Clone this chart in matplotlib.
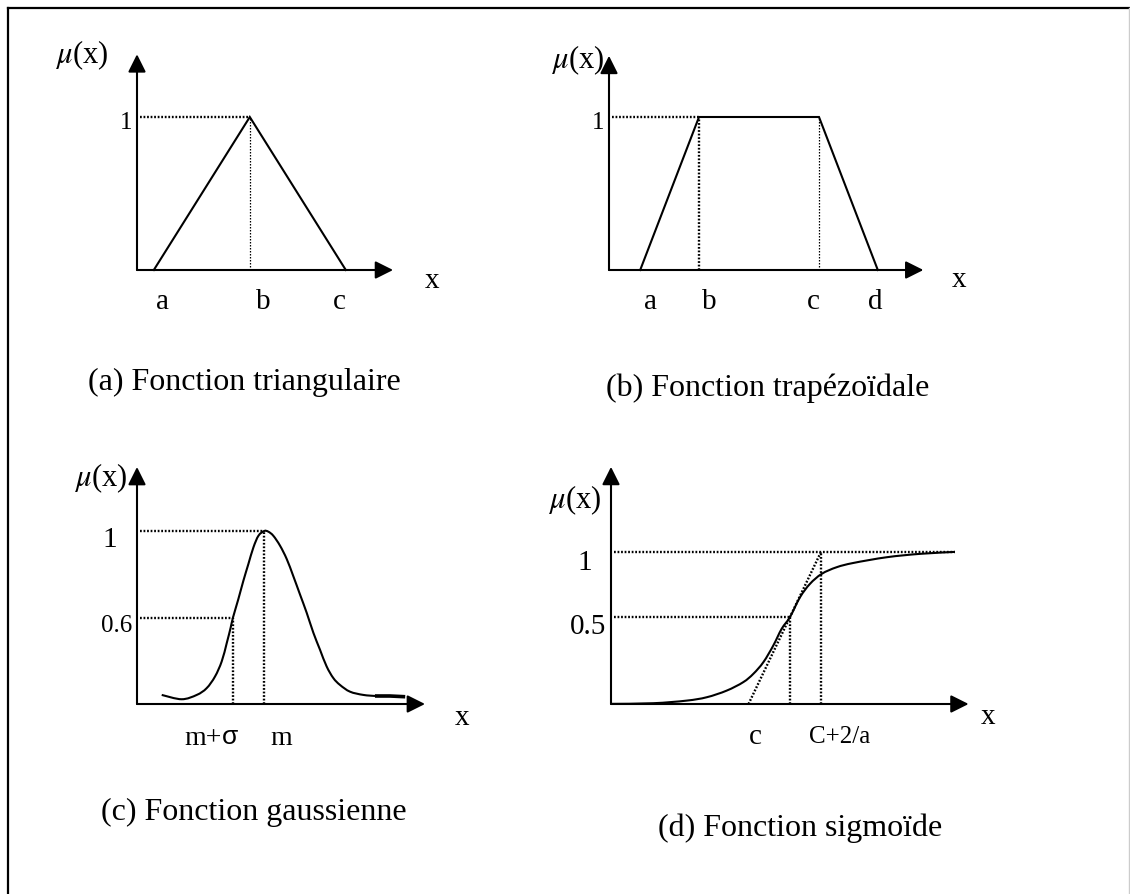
import numpy as np
import matplotlib
import matplotlib.pyplot as plt
from matplotlib.lines import Line2D
from matplotlib.path import Path
from matplotlib.patches import PathPatch

matplotlib.rcParams['font.family'] = ['Liberation Serif', 'DejaVu Serif']
matplotlib.rcParams['mathtext.fontset'] = 'stix'

W, H = 1130, 895

# (a) fonction triangulaire
tri_x = [0.7, 4.7, 8.7]
tri_y = [0, 1, 0]
tri_ticks = [1.08, 5.25, 8.42]
tri_labels = ['a', 'b', 'c']

# (b) fonction trapezoidale
trap_x = [1.3, 3.75, 8.75, 11.2]
trap_y = [0, 1, 1, 0]
trap_ticks = [1.71, 4.17, 8.5, 11.08]
trap_labels = ['a', 'b', 'c', 'd']

# (c) fonction gaussienne (axe des x a 0.2)
gauss_base = 0.2
gauss_x = [1.03, 1.86, 2.49, 2.90, 3.25, 3.53, 3.74, 3.90, 4.0, 4.22, 4.43, 4.64,
           4.85, 5.06, 5.3, 5.47, 5.68, 5.96, 6.24, 6.51, 6.79, 7.07, 7.35, 7.625,
           7.90, 8.18, 8.46, 8.875, 9.43, 9.99, 10.54, 11.10]
gauss_y = [0.242, 0.222, 0.242, 0.273, 0.327, 0.397, 0.482, 0.552, 0.6, 0.684, 0.769, 0.847,
           0.924, 0.978, 1.0, 0.997, 0.978, 0.932, 0.870, 0.792, 0.707, 0.622, 0.529, 0.451,
           0.374, 0.320, 0.288, 0.257, 0.242, 0.237, 0.237, 0.234]
gauss_m = 5.3
gauss_ms = 4.0
gauss_levels = [1.0, 0.6]

# (d) fonction sigmoide (axe des x a -0.17)
sig_base = -0.17
sig_x = [0.0, 1.76, 3.15, 3.99, 4.82, 5.51, 5.93, 6.35, 6.76, 7.11, 7.46, 7.875,
         8.29, 8.78, 9.40, 10.1, 11.49, 12.875, 14.33]
sig_y = [-0.169, -0.164, -0.144, -0.118, -0.067, -0.002, 0.062, 0.152, 0.279, 0.408, 0.5, 0.651,
         0.754, 0.831, 0.882, 0.915, 0.959, 0.985, 1.0]
sig_c = 7.46
sig_c2a = 8.75
tan_x = [5.73, 8.75]
tan_y = [-0.17, 1.0]

fig = plt.figure(figsize=(W / 100, H / 100), dpi=100)

# cadre
bg = fig.add_axes([0, 0, 1, 1])
bg.set_xlim(0, W)
bg.set_ylim(H, 0)
bg.axis('off')
bg.add_line(Line2D([8, 1129], [9, 9], color='k', lw=1.6))
bg.add_line(Line2D([8, 8], [9, H], color='k', lw=1.6))
bg.add_line(Line2D([1129, 1129], [9, H], color='#cccccc', lw=1))


def panel(ox, oy, sx, sy, xlim, ylim):
    # ox, oy : pixel de l'origine (0, 0), sx, sy : pixels par unite
    left = ox + xlim[0] * sx
    right = ox + xlim[1] * sx
    top = oy - ylim[1] * sy
    bottom = oy - ylim[0] * sy
    ax = fig.add_axes([left / W, 1 - bottom / H, (right - left) / W, (bottom - top) / H])
    ax.set_xlim(*xlim)
    ax.set_ylim(*ylim)
    ax.axis('off')
    return ax


def arrows(ax, y0, xtip, ytip):
    kw = dict(arrowstyle='-|>,head_length=0.4,head_width=0.2', mutation_scale=27,
              lw=1.5, color='k', shrinkA=0, shrinkB=0)
    ax.annotate('', xy=(xtip, y0), xytext=(0, y0), arrowprops=kw, annotation_clip=False)
    ax.annotate('', xy=(0, ytip), xytext=(0, y0), arrowprops=kw, annotation_clip=False)


def smooth(ax, xs, ys, lw=1.5):
    # courbe lisse passant par les points (Catmull-Rom -> Bezier)
    p = np.column_stack([xs, ys])
    p = np.vstack([p[0], p, p[-1]])
    verts = [p[1]]
    codes = [Path.MOVETO]
    for i in range(1, len(p) - 2):
        c1 = p[i] + (p[i + 1] - p[i - 1]) / 6
        c2 = p[i + 1] - (p[i + 2] - p[i]) / 6
        verts += [c1, c2, p[i + 1]]
        codes += [Path.CURVE4] * 3
    ax.add_patch(PathPatch(Path(verts, codes), fill=False, ec='k', lw=lw))


dot = dict(color='k', lw=1.7, ls=(0, (0.75, 0.75)))
thin = dict(color='k', lw=0.9, ls=(0, (1.2, 1.2)))
curve = dict(color='k', lw=1.5, solid_joinstyle='miter')

# ---- (a)
ax = panel(137, 271, 24, 153, (-5, 15), (-1, 1.6))
arrows(ax, 0, 10.67, 1.41)
ax.plot([0.12, tri_x[1]], [1, 1], **dot)
ax.plot([tri_x[1], tri_x[1]], [0, 1], **thin)
ax.plot(tri_x, tri_y, **curve)
for x, s in zip(tri_ticks, tri_labels):
    ax.text(x, -0.2, s, fontsize=21, ha='center', va='center')
ax.text(-0.46, 0.967, '1', fontsize=18, ha='center', va='center')
ax.text(-2.31, 1.41, r'$\mu$(x)', fontsize=22, ha='center', va='center')
ax.text(12.3, -0.065, 'x', fontsize=21, ha='center', va='center')
ax.text(4.46, -0.73, '(a) Fonction triangulaire', fontsize=23, ha='center', va='center')

# ---- (b)
ax = panel(609, 271, 24, 153, (-5, 17), (-1, 1.6))
arrows(ax, 0, 13.1, 1.4)
ax.plot([0.12, trap_x[1]], [1, 1], **dot)
ax.plot([trap_x[1], trap_x[1]], [0, 1], **dot)
ax.plot([trap_x[2], trap_x[2]], [0, 1], **thin)
ax.plot(trap_x, trap_y, **curve)
for x, s in zip(trap_ticks, trap_labels):
    ax.text(x, -0.2, s, fontsize=21, ha='center', va='center')
ax.text(-0.46, 0.967, '1', fontsize=18, ha='center', va='center')
ax.text(-1.29, 1.38, r'$\mu$(x)', fontsize=22, ha='center', va='center')
ax.text(14.6, -0.06, 'x', fontsize=21, ha='center', va='center')
ax.text(6.6, -0.765, '(b) Fonction trapézoïdale', fontsize=23, ha='center', va='center')

# ---- (c) : l'axe des x (0.2) tombe a y = 705 px
ax = panel(137, 705 + gauss_base * 216.25, 24, 216.25, (-5, 15), (-0.8, 1.5))
arrows(ax, gauss_base, 12.0, 1.296)
ax.plot([0.12, gauss_m], [gauss_levels[0]] * 2, **dot)
ax.plot([0.12, gauss_ms], [gauss_levels[1]] * 2, **dot)
ax.plot([gauss_m, gauss_m], [gauss_base, gauss_levels[0]], **dot)
ax.plot([gauss_ms, gauss_ms], [gauss_base, gauss_levels[1]], **dot)
smooth(ax, gauss_x, gauss_y)
ax.plot(gauss_x[-3:], gauss_y[-3:], color='k', lw=2.6)
ax.text(-1.125, 0.963, '1', fontsize=21, ha='center', va='center')
ax.text(-0.83, 0.567, '0.6', fontsize=18, ha='center', va='center')
ax.text(-1.52, 1.251, r'$\mu$(x)', fontsize=22, ha='center', va='center')
ax.text(3.55, 0.047, 'm+', fontsize=20, ha='right', va='center')
ax.text(3.55, 0.052, 'σ', fontsize=19, ha='left', va='center', family='Liberation Sans')
ax.text(6.0, 0.047, 'm', fontsize=20, ha='center', va='center')
ax.text(13.54, 0.14, 'x', fontsize=21, ha='center', va='center')
ax.text(4.85, -0.299, '(c) Fonction gaussienne', fontsize=23, ha='center', va='center')

# ---- (d) : l'axe des x (-0.17) tombe a y = 705 px
ax = panel(611, 705 + sig_base * 130, 24, 130, (-5, 17), (-1.5, 1.8))
arrows(ax, sig_base, 14.9, 1.654)
ax.plot([0.12, sig_x[-1]], [1, 1], **dot)
ax.plot([0.12, sig_c], [0.5, 0.5], **dot)
ax.plot([sig_c, sig_c], [sig_base, 0.5], **dot)
ax.plot([sig_c2a, sig_c2a], [sig_base, 1], **dot)
ax.plot(tan_x, tan_y, **dot)
smooth(ax, sig_x, sig_y)
ax.text(-1.08, 0.923, '1', fontsize=21, ha='center', va='center')
ax.text(-0.96, 0.43, '0.5', fontsize=21, ha='center', va='center')
ax.text(-1.5, 1.408, r'$\mu$(x)', fontsize=22, ha='center', va='center')
ax.text(6.0, -0.415, 'c', fontsize=21, ha='center', va='center')
ax.text(9.54, -0.415, 'C+2/a', fontsize=18, ha='center', va='center')
ax.text(15.7, -0.26, 'x', fontsize=21, ha='center', va='center')
ax.text(7.9, -1.115, '(d) Fonction sigmoïde', fontsize=23, ha='center', va='center')

fig.savefig('out.png', dpi=100)
